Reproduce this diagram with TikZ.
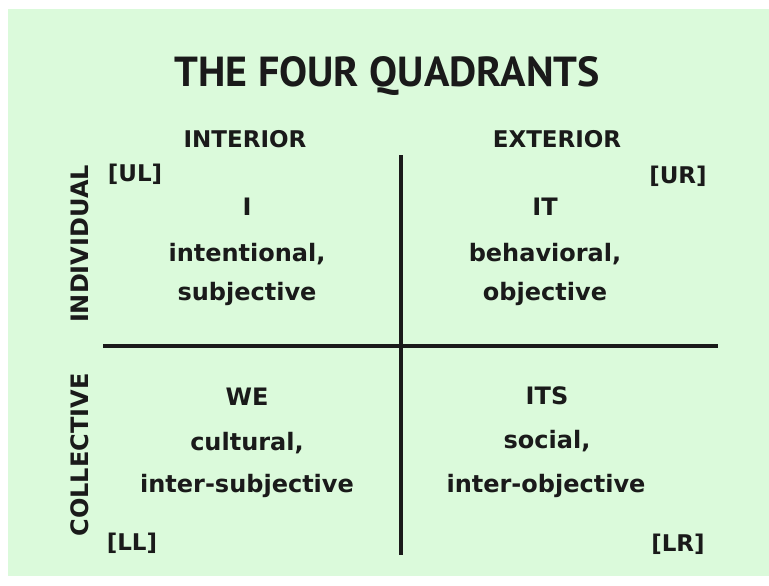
\documentclass[tikz,border=0pt]{standalone}
\usepackage{fontspec}
\setmainfont{DejaVu Sans}
\newfontfamily\titlefont{PT Sans}
\definecolor{bggreen}{HTML}{DBFADB}
\definecolor{ink}{HTML}{1A1A1A}
\begin{document}
\begin{tikzpicture}[x=1pt,y=-1pt,
  lbl/.style={inner sep=0pt,text=ink,font=\bfseries\fontsize{23}{25}\selectfont},
  side/.style={inner sep=0pt,text=ink,font=\bfseries\fontsize{24}{26}\selectfont},
  body/.style={inner sep=0pt,text=ink,font=\bfseries\fontsize{24}{26}\selectfont},
  corner/.style={inner sep=0pt,text=ink,font=\bfseries\fontsize{23}{25}\selectfont},
  axis/.style={line width=4pt,draw=ink}]
\useasboundingbox (0,0) rectangle (769,586);
\fill[bggreen] (8,9) rectangle (769,576);
\node[inner sep=0pt,text=ink,font=\titlefont\bfseries\fontsize{42}{44}\selectfont] (title) at (387,76) {THE FOUR QUADRANTS};
\node[lbl] (int) at (245,139) {INTERIOR};
\node[lbl] (ext) at (557,139) {EXTERIOR};
\node[side,rotate=90] (ind) at (80,244) {INDIVIDUAL};
\node[side,rotate=90] (col) at (80,455) {COLLECTIVE};
\node[corner] (ul) at (135,174) {[UL]};
\node[corner] (ur) at (678,176) {[UR]};
\node[corner] (ll) at (132,543) {[LL]};
\node[corner] (lr) at (678,544) {[LR]};
\node[body] (i1) at (247,207) {I};
\node[body] (i2) at (247,254) {intentional,};
\node[body] (i3) at (247,294) {subjective};
\node[body] (it1) at (545,207) {IT};
\node[body] (it2) at (545,254) {behavioral,};
\node[body] (it3) at (545,294) {objective};
\node[body] (we1) at (247,397) {WE};
\node[body] (we2) at (247,443) {cultural,};
\node[body] (we3) at (247,486) {inter-subjective};
\node[body] (its1) at (547,396) {ITS};
\node[body] (its2) at (547,441) {social,};
\node[body] (its3) at (546,486) {inter-objective};
\coordinate (vtop) at (401,155);
\coordinate (vbot) at (401,555);
\coordinate (hl) at (103,346);
\coordinate (hr) at (718,346);
\draw[axis] (vtop) -- (vbot);
\draw[axis] (hl) -- (hr);
\end{tikzpicture}
\end{document}
